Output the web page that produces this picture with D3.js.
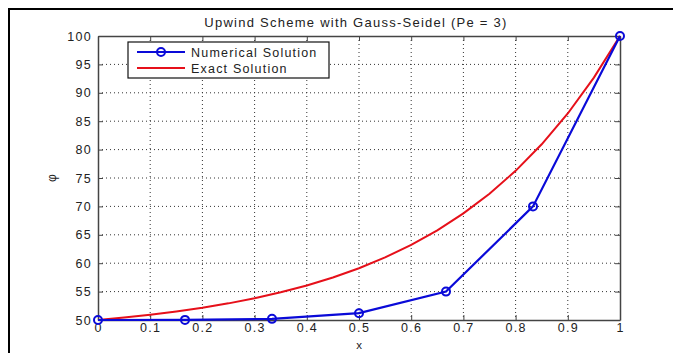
<!DOCTYPE html>
<html>
<head>
<meta charset="utf-8">
<script src="https://cdn.jsdelivr.net/npm/d3@7"></script>
<style>
  html, body { margin: 0; padding: 0; background: #fff; }
  svg { display: block; }
  text { font-family: Arial, "Liberation Sans", Helvetica, sans-serif; fill: #222; }
</style>
</head>
<body>
<svg id="chart" width="673" height="353"></svg>
<script>
// Numerical solution on the 7-node grid (upwind, Gauss-Seidel)
const numX = [0, 1/6, 2/6, 3/6, 4/6, 5/6, 1];
const numPhi = [50, 50.02, 50.2, 51.2, 55, 70, 100];

// Exact solution sampled along x
const exactX = [0, 0.05, 0.1, 0.15, 0.2, 0.25, 0.3, 0.35, 0.4, 0.45, 0.5,
                0.55, 0.6, 0.65, 0.7, 0.75, 0.8, 0.85, 0.9, 0.95, 1];
const exactPhi = [50, 50.42, 50.92, 51.49, 52.15, 52.93, 53.82, 54.87, 56.08, 57.49, 59.12,
                  61.02, 63.23, 65.79, 68.77, 72.24, 76.26, 80.93, 86.36, 92.67, 100];

const xTicks = [0, 0.1, 0.2, 0.3, 0.4, 0.5, 0.6, 0.7, 0.8, 0.9, 1];
const yTicks = [50, 55, 60, 65, 70, 75, 80, 85, 90, 95, 100];

const titleText = "Upwind Scheme with Gauss-Seidel (Pe = 3)";
const xLabel = "x";
const yLabel = "\u03C6";
const legendLabels = ["Numerical Solution", "Exact Solution"];

const svg = d3.select("#chart");
const plot = { left: 98, right: 620, top: 36, bottom: 320 };

const x = d3.scaleLinear().domain([0, 1]).range([plot.left, plot.right]);
const y = d3.scaleLinear().domain([50, 100]).range([plot.bottom, plot.top]);

// outer figure frame
svg.append("path")
  .attr("d", `M9,353 V9 H673`)
  .attr("fill", "none").attr("stroke", "#000").attr("stroke-width", 2);

// dotted grid
const grid = svg.append("g");
grid.selectAll("line.gx").data(xTicks.slice(1, -1)).join("line")
  .attr("x1", d => x(d)).attr("x2", d => x(d))
  .attr("y1", plot.top).attr("y2", plot.bottom)
  .attr("stroke", "#333").attr("stroke-width", 1).attr("stroke-dasharray", "1,3");
grid.selectAll("line.gy").data(yTicks.slice(1, -1)).join("line")
  .attr("x1", plot.left).attr("x2", plot.right)
  .attr("y1", d => y(d)).attr("y2", d => y(d))
  .attr("stroke", "#333").attr("stroke-width", 1).attr("stroke-dasharray", "1,3");

// axes (ticks pointing inward, box on all sides)
const axisColor = "#444";
const tickFont = "12.5px";
const xAxis = svg.append("g").attr("transform", `translate(0,${plot.bottom})`)
  .call(d3.axisBottom(x).tickValues(xTicks).tickFormat(d3.format("")).tickSizeInner(-5).tickSizeOuter(0).tickPadding(3));
const xAxisTop = svg.append("g").attr("transform", `translate(0,${plot.top})`)
  .call(d3.axisTop(x).tickValues(xTicks).tickFormat("").tickSizeInner(-5).tickSizeOuter(0));
const yAxis = svg.append("g").attr("transform", `translate(${plot.left},0)`)
  .call(d3.axisLeft(y).tickValues(yTicks).tickSizeInner(-5).tickSizeOuter(0).tickPadding(6));
const yAxisRight = svg.append("g").attr("transform", `translate(${plot.right},0)`)
  .call(d3.axisRight(y).tickValues(yTicks).tickFormat("").tickSizeInner(-5).tickSizeOuter(0));

[xAxis, xAxisTop, yAxis, yAxisRight].forEach(g => {
  g.select(".domain").attr("stroke", axisColor).attr("stroke-width", 1.5);
  g.selectAll(".tick line").attr("stroke", axisColor);
  g.selectAll(".tick text")
    .style("font-family", "Arial, 'Liberation Sans', sans-serif")
    .style("font-size", tickFont).style("letter-spacing", "1.3px").attr("fill", "#222");
});

// curves
const line = d3.line().x(d => x(d[0])).y(d => y(d[1]));
svg.append("path")
  .datum(d3.zip(exactX, exactPhi))
  .attr("d", line).attr("fill", "none").attr("stroke", "#e6101a").attr("stroke-width", 2);
svg.append("path")
  .datum(d3.zip(numX, numPhi))
  .attr("d", line).attr("fill", "none").attr("stroke", "#0a0ad8").attr("stroke-width", 2.2);
svg.append("g").selectAll("circle").data(d3.zip(numX, numPhi)).join("circle")
  .attr("cx", d => x(d[0])).attr("cy", d => y(d[1])).attr("r", 4)
  .attr("fill", "none").attr("stroke", "#0a0ad8").attr("stroke-width", 2);

// title and axis labels
svg.append("text").attr("x", 356).attr("y", 27)
  .attr("text-anchor", "middle").style("font-size", "13px").style("letter-spacing", "1.25px")
  .text(titleText);
svg.append("text").attr("x", (plot.left + plot.right) / 2).attr("y", 349)
  .attr("text-anchor", "middle").style("font-size", "11.5px").attr("fill", "#333")
  .text(xLabel);
svg.append("text").attr("transform", `translate(56,${(plot.top + plot.bottom) / 2}) rotate(-90)`)
  .attr("text-anchor", "middle").style("font-size", "12px")
  .text(yLabel);

// legend
const leg = svg.append("g").attr("transform", "translate(128,42)");
leg.append("rect").attr("width", 201).attr("height", 36)
  .attr("fill", "#fff").attr("stroke", "#111").attr("stroke-width", 1.2);
const rows = [
  { label: legendLabels[0], color: "#0a0ad8", marker: true },
  { label: legendLabels[1], color: "#e6101a", marker: false }
];
rows.forEach((r, i) => {
  const cy = 10 + i * 16;
  leg.append("line").attr("x1", 9).attr("x2", 57).attr("y1", cy).attr("y2", cy)
    .attr("stroke", r.color).attr("stroke-width", 2);
  if (r.marker) {
    leg.append("circle").attr("cx", 33).attr("cy", cy).attr("r", 4)
      .attr("fill", "none").attr("stroke", r.color).attr("stroke-width", 2);
  }
  leg.append("text").attr("x", 63).attr("y", cy + 4.5)
    .style("font-size", "12.5px").style("letter-spacing", "1.2px")
    .text(r.label);
});
</script>
</body>
</html>
